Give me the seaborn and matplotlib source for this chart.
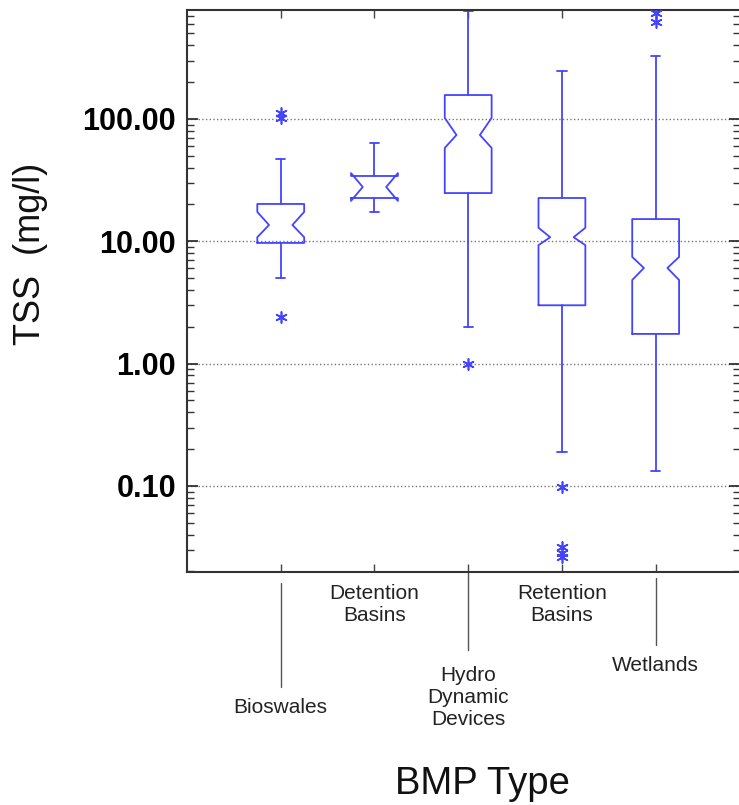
import matplotlib
matplotlib.use('Agg')
import matplotlib.pyplot as plt
import pandas as pd
import seaborn as sns

# Box statistics (TSS, mg/l).
categories = ['Bioswales', 'Detention\nBasins', 'Hydro\nDynamic\nDevices', 'Retention\nBasins', 'Wetlands']
medians = [13.6, 27.8, 74.0, 10.8, 6.05]
q1s = [9.7, 22.6, 24.8, 3.0, 1.75]
q3s = [20.2, 34.2, 157.0, 22.6, 15.2]
whisk_lo = [5.0, 17.4, 1.99, 0.19, 0.132]
whisk_hi = [47.1, 63.7, 770.0, 247.0, 327.0]
notch_lo = [10.8, 21.4, 58.0, 9.3, 4.83]
notch_hi = [17.4, 36.1, 102.0, 12.9, 7.45]

# Outliers.
flier_cat = ['Bioswales', 'Bioswales', 'Bioswales', 'Hydro\nDynamic\nDevices',
             'Retention\nBasins', 'Retention\nBasins', 'Retention\nBasins', 'Retention\nBasins',
             'Wetlands', 'Wetlands']
flier_val = [112.0, 102.0, 2.4, 1.0, 0.098, 0.0316, 0.0283, 0.0262, 736.0, 621.0]

sns.set_theme(style='ticks')
plt.rcParams['font.family'] = ['Liberation Sans', 'DejaVu Sans']

W, H = 739, 805
fig = plt.figure(figsize=(W / 100, H / 100), dpi=100)
# axes box in pixels: left 187, right 740, top 10, bottom 572
ax = fig.add_axes([187 / W, 1 - 572 / H, (740 - 187) / W, (572 - 10) / H])
ax.set_yscale('log')

blue = '#4444ff'
stats = []
for i, name in enumerate(categories):
    stats.append(dict(label=name, med=medians[i], q1=q1s[i], q3=q3s[i],
                      whislo=whisk_lo[i], whishi=whisk_hi[i],
                      cilo=notch_lo[i], cihi=notch_hi[i], fliers=[]))

ax.bxp(stats, positions=range(len(categories)), widths=0.5, capwidths=0.1,
       shownotches=True, showfliers=False, manage_ticks=False,
       boxprops=dict(color=blue, linewidth=1.3),
       whiskerprops=dict(color=blue, linewidth=1.3),
       capprops=dict(color=blue, linewidth=1.3),
       medianprops=dict(linestyle='none'))

df_fliers = pd.DataFrame({'bmp': flier_cat, 'tss': flier_val})
sns.stripplot(data=df_fliers, x='bmp', y='tss', order=categories, jitter=False,
              marker=(6, 2, 0), s=8, color=blue, linewidth=1.2, ax=ax)

ax.set_xlim(-1, 4.9)
ax.set_ylim(0.0198, 778)

# Axis styling.
ax.set_xticks(range(len(categories)))
ax.set_xticklabels([])
ax.tick_params(axis='x', which='both', direction='in', top=True, bottom=True,
               length=6, width=1, color='#444444')
ax.set_yticks([0.1, 1, 10, 100])
ax.set_yticklabels(['0.10', '1.00', '10.00', '100.00'], fontsize=22,
                   fontweight='bold', color='black')
ax.tick_params(axis='y', which='major', direction='in', left=True, right=True,
               length=8, width=1.2, color='#222222', pad=8)
ax.tick_params(axis='y', which='minor', direction='in', left=True, right=True,
               length=5, width=1, color='#333333')
ax.yaxis.grid(True, which='major', linestyle=':', color='#777777', linewidth=1)
ax.xaxis.grid(False)
for side in ['left', 'right', 'top', 'bottom']:
    ax.spines[side].set_visible(True)
    ax.spines[side].set_color('#333333')
    ax.spines[side].set_linewidth(1.5)

# Staggered category labels hanging below the axis.
def frac(y_px):
    return (572 - y_px) / 562

trans = ax.get_xaxis_transform()
label_y = [707, 604, 697, 604, 665]
lines = [(583, 687), None, (572, 650), None, (578, 645)]
for i, name in enumerate(categories):
    if lines[i] is not None:
        ax.plot([i, i], [frac(lines[i][0]), frac(lines[i][1])], transform=trans,
                color='#555555', linewidth=1, clip_on=False)
    ax.text(i, frac(label_y[i]), name, transform=trans, ha='center', va='center',
            fontsize=15, color='#222222', linespacing=1.2)

ax.set_xlabel('BMP Type', fontsize=27.5, va='center', color='#111111')
ax.xaxis.set_label_coords((482 - 187) / 553, frac(784))
ax.set_ylabel('TSS  (mg/l)', fontsize=26, va='center', color='#111111')
ax.yaxis.set_label_coords((31 - 187) / 553, frac(254))

fig.savefig('out.png', dpi=100)
